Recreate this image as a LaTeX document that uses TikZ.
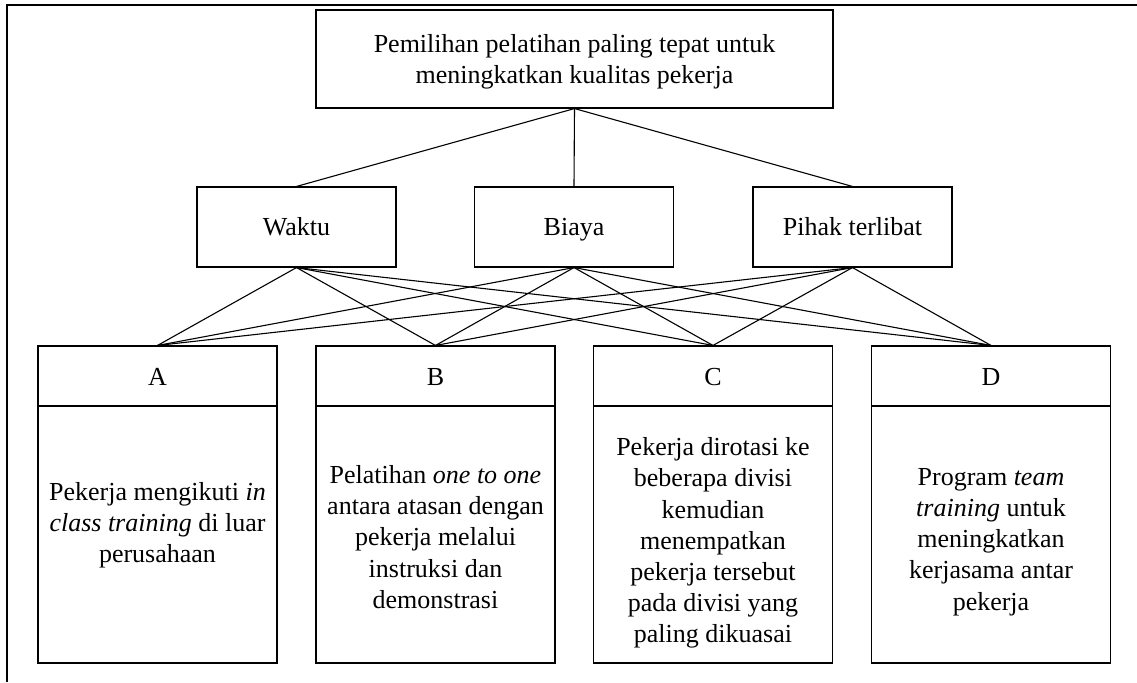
\documentclass[tikz,border=0pt]{standalone}
\usepackage{fontspec}
\setmainfont{Liberation Serif}
\begin{document}
\begin{tikzpicture}[x=0.5pt,y=-0.5pt,
  box/.style={draw,line width=0.55pt,inner sep=0pt},
  goalbox/.style={box,minimum width=258.5pt,minimum height=49pt},
  critbox/.style={box,minimum width=99.5pt,minimum height=40pt},
  altlabel/.style={box,minimum width=119.5pt,minimum height=30pt},
  altbody/.style={box,minimum width=119.5pt,minimum height=128.5pt},
  txt/.style={inner sep=0pt,align=center,font=\fontsize{13}{15.6}\selectfont},
  word/.style={txt,anchor=base},
  link/.style={line width=0.55pt}]
\useasboundingbox (0,0) rectangle (1137,682);
% page frame
\draw[line width=1.4pt] (7,682) -- (7,5) -- (1137,5);

% goal
\node[goalbox] (goal) at (574.5,59) {};
\node[txt] (goaltxt) at (574.5,62) {Pemilihan pelatihan paling tepat untuk\\meningkatkan kualitas pekerja};

% criteria
\node[critbox] (waktu) at (296.5,227) {};
\node[critbox] (biaya) at (574,227) {};
\node[critbox] (pihak) at (852.5,227) {};
\node[word] (waktutxt) at (296.5,235) {Waktu};
\node[word] (biayatxt) at (574,235) {Biaya};
\node[word] (pihaktxt) at (852.5,235) {Pihak terlibat};

% alternatives: header and description
\node[altlabel] (A) at (157.5,376) {};
\node[altlabel] (B) at (435.5,376) {};
\node[altlabel] (C) at (713,376) {};
\node[altlabel] (D) at (991,376) {};
\node[altbody] (Abody) at (157.5,534.5) {};
\node[altbody] (Bbody) at (435.5,534.5) {};
\node[altbody] (Cbody) at (713,534.5) {};
\node[altbody] (Dbody) at (991,534.5) {};
\node[word] (Alab) at (157.5,385) {A};
\node[word] (Blab) at (435.5,385) {B};
\node[word] (Clab) at (713,385) {C};
\node[word] (Dlab) at (991,385) {D};
\node[txt] (Atxt) at (157.5,525) {Pekerja mengikuti \textit{in}\\\textit{class training} di luar\\perusahaan};
\node[txt] (Btxt) at (435.5,537) {Pelatihan \textit{one to one}\\antara atasan dengan\\pekerja melalui\\instruksi dan\\demonstrasi};
\node[txt] (Ctxt) at (713,543) {Pekerja dirotasi ke\\beberapa divisi\\kemudian\\menempatkan\\pekerja tersebut\\pada divisi yang\\paling dikuasai};
\node[txt] (Dtxt) at (991,542) {Program \textit{team}\\\textit{training} untuk\\meningkatkan\\kerjasama antar\\pekerja};

% goal to criteria
\foreach \c in {waktu,biaya,pihak}
  \draw[link] (goal.south) -- (\c.north);
% criteria to alternatives
\foreach \c in {waktu,biaya,pihak}
  \foreach \a in {A,B,C,D}
    \draw[link] (\c.south) -- (\a.north);
\end{tikzpicture}
\end{document}
